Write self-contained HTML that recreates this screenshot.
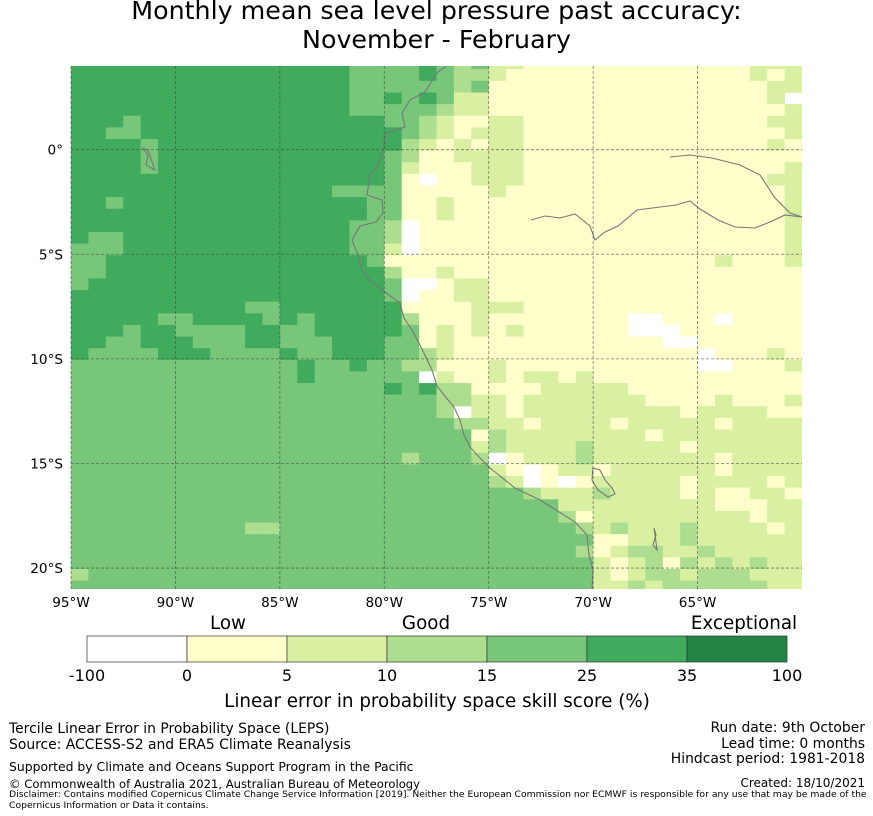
<!DOCTYPE html>
<html><head><meta charset="utf-8"><style>
body{margin:0;background:#fff;font-family:"DejaVu Sans",sans-serif;}
#wrap{position:relative;width:873px;height:816px;overflow:hidden;}
.t{position:absolute;white-space:nowrap;color:#000;}
</style></head><body>
<div id="wrap">
<div class="t" style="left:0;width:873px;text-align:center;top:-3px;font-size:25.3px;line-height:28.5px;">Monthly mean sea level pressure past accuracy:<br>November - February</div>
<svg id="svg" width="873" height="816" style="position:absolute;left:0;top:0"></svg>
<div class="t" style="left:9px;top:721px;font-size:13.9px;line-height:16px;">Tercile Linear Error in Probability Space (LEPS)<br>Source: ACCESS-S2 and ERA5 Climate Reanalysis</div>
<div class="t" style="left:9px;top:759px;font-size:12.4px;">Supported by Climate and Oceans Support Program in the Pacific</div>
<div class="t" style="left:9px;top:777px;font-size:11.6px;">© Commonwealth of Australia 2021, Australian Bureau of Meteorology</div>
<div class="t" style="left:9px;top:790px;font-size:9.25px;line-height:10.5px;">Disclaimer: Contains modified Copernicus Climate Change Service Information [2019]. Neither the European Commission nor ECMWF is responsible for any use that may be made of the<br>Copernicus Information or Data it contains.</div>
<div class="t" style="right:8px;top:721px;font-size:13.9px;line-height:15.5px;text-align:right;">Run date: 9th October<br>Lead time: 0 months<br>Hindcast period: 1981-2018</div>
<div class="t" style="right:8px;top:776px;font-size:12px;">Created: 18/10/2021</div>
</div>
<script>
const NS="http://www.w3.org/2000/svg";
const cellRows=[
"555555555555555544445434221111111111111222",
"555555555555555544445433211111111111111212 3",
"555555555555555544444434111111111111111122",
"5555555555555555445454221111111111111111 2",
"555555555555555544444322111111111111111112",
"5554555555555555554432112211111111111111 22",
"554455555555555555543212221111111111111112",
"55554555555555555553212122111111111111112 1",
"5555455555555555554311222211111111111111 11",
"55554555555555555542111222111111111111111 2",
"5555555555555555554101122211111111111111 22",
"555555555555555444411111211111111111111112",
"554555555555555554411211111111111111111112",
"555555555555555554411211111111111111111112",
"555555555555555544301111111111111111111112",
"544555555555555544301111111111111111111112",
"444555555555555544201111111111111111111112",
"445555555555555554111111111111111111121112",
"445555555555555555311211111111111111111111",
"455555555555555555400122111111111111111111",
"555555555555555555401122111111111111111111",
"555555555544555555511112221111111111111111",
"555554455554545555531112111111110011101111",
"555455444455445555541212121111110001111111",
"554455544455444555441211111111111100111111",
"544445554444544555443211111111111111011121",
"444444444444454454433111211111111111001112",
"444444444444454444440211212212111111111111",
"444444444444444444545331111222221111111111",
"444444444444444444444332212222222111121112",
"444444444444444444444302212222222221222211",
"444444444444444444444433221222212222212222",
"444444444444444444444441322222222122222222",
"444444444444444444444442322223222221222222",
"444444444444444444434443012223222222212222",
"444444444444444444444444210122122222212222",
"444444444444444444444444320101222221222212",
"444444444444444444444444443222322221211221",
"444444444444444444444444444422222222211122",
"444444444444444444444444444431222222222122",
"444444444433444444444444444443232223222212",
"444444444444444444444444444444112223222222",
"444444444444444444444444444443123322322222",
"444444444444444444444444444444212313232322",
"344444444444444444444444444444212332333222",
"444444444444444444444444444444223233333322"
];
const binColors=["#ffffff","#ffffcc","#d9f0a3","#addd8e","#78c679","#41ab5d","#238443"];
const lonTicks=[95,90,85,80,75,70,65];
const latTicks=[0,5,10,15,20];
const cbBounds=["-100","0","5","10","15","25","35","100"];
const cbHeads=["Low","Good","Exceptional"];
const lonW=95, lonE=60, latN=-4, latS=21;
const X0=71,X1=802,Y0=66,Y1=589;
const xS=lon=>X0+(lonW-lon)/(lonW-lonE)*(X1-X0);
const yS=lat=>Y0+(lat-latN)/(latS-latN)*(Y1-Y0);
const dLon=5/6, dLat=5/9, latTop=-4.4;
const svg=document.getElementById('svg');
const FF="DejaVu Sans, sans-serif";
function mk(tag,attrs,parent){const e=document.createElementNS(NS,tag);for(const k in attrs)e.setAttribute(k,attrs[k]);(parent||svg).appendChild(e);return e;}
const defs=mk('defs',{});const cp=mk('clipPath',{id:'mc'},defs);mk('rect',{x:X0,y:Y0,width:X1-X0,height:Y1-Y0},cp);
const g=mk('g',{'clip-path':'url(#mc)'});


cellRows.forEach((row,r)=>{
  const s=row.replace(/ /g,'');
  for(let c=0;c<42;c++){
    const v=+s[c]; if(isNaN(v))continue;
    const lo=lonW-c*dLon, la=latTop+r*dLat;
    const x=xS(lo), y=yS(la), w=xS(lo-dLon)-x, h=yS(la+dLat)-y;
    const e=mk('rect',{x:x.toFixed(2),y:y.toFixed(2),width:(w+0.4).toFixed(2),height:(h+0.4).toFixed(2),fill:binColors[v]},g);
    
    
  }
});
const coast="M446,66 L437,73 L425,92 L410,100 L402,113 L405,127 L386,133 L383,150 L378,165 L370,175 L367,195 L382,200 L383,213 L376,222 L360,226 L352,240 L358,255 L362,270 L370,280 L382,290 L400,303 L404,318 L412,330 L420,345 L432,370 L437,386 L444,395 L454,407 L460,420 L464,435 L470,447 L478,456 L490,468 L515,488 L540,500 L556,510 L575,522 L587,535 L589,555 L593,570 L592,589";
const gc=mk('g',{fill:'none',stroke:'#777',"stroke-width":1.1,'clip-path':'url(#mc)'});


mk('path',{d:coast},gc);
mk('path',{d:"M531,220 L545,216 L560,218 L575,214 L590,226 L595,240 L605,232 L618,226 L637,210 L660,207 L676,205 L690,201 L700,209 L718,220 L735,227 L755,228 L770,222 L785,215 L802,217"},gc);
mk('path',{d:"M670,157 L690,155 L712,158 L740,165 L760,175 L775,198 L790,213 L802,217"},gc);
mk('path',{d:"M593,468 L600,470 L605,480 L612,488 L615,494 L608,497 L598,490 L592,480 Z"},gc);
mk('path',{d:"M654,528 L656,535 L653,545 L657,550 L656,542 Z"},gc);
mk('path',{d:"M143,148 L148,155 L146,165 L155,170 L152,162 L148,150 Z"},gc);
const gg=mk('g',{stroke:'#444',"stroke-width":0.8,"stroke-dasharray":"3,2",opacity:0.7});


lonTicks.forEach(l=>{const x=xS(l);mk('line',{x1:x,x2:x,y1:Y0,y2:Y1},gg);
  const t=mk('text',{x:x,y:607,"text-anchor":"middle","font-size":13.6,"font-family":FF});t.textContent=l+"°W";
  
  });
latTicks.forEach(l=>{const y=yS(l);mk('line',{x1:X0,x2:X1,y1:y,y2:y},gg);
  const t=mk('text',{x:63,y:y+5,"text-anchor":"end","font-size":13.6,"font-family":FF});t.textContent=l===0?"0°":l+"°S";
  
  });
const cbX=87,cbW=700,cbY=636,cbH=26,nBins=binColors.length,seg=cbW/nBins;
const cb=mk('g',{});


for(let i=0;i<nBins;i++){const e=mk('rect',{x:cbX+i*seg,y:cbY,width:seg,height:cbH,fill:binColors[i],stroke:'#333',"stroke-width":0.7},cb);
  
  }
cbBounds.forEach((b,i)=>{const t=mk('text',{x:cbX+i*seg,y:681,"text-anchor":"middle","font-size":16,"font-family":FF},cb);t.textContent=b;
  
  });
const heads=[228,426,744];
cbHeads.forEach((h,i)=>{const t=mk('text',{x:heads[i],y:629,"text-anchor":"middle","font-size":18.3,"font-family":FF},cb);t.textContent=h;
  
  });
const ct=mk('text',{x:437,y:707,"text-anchor":"middle","font-size":18.3,"font-family":FF});ct.textContent="Linear error in probability space skill score (%)";


</script>
</body></html>
